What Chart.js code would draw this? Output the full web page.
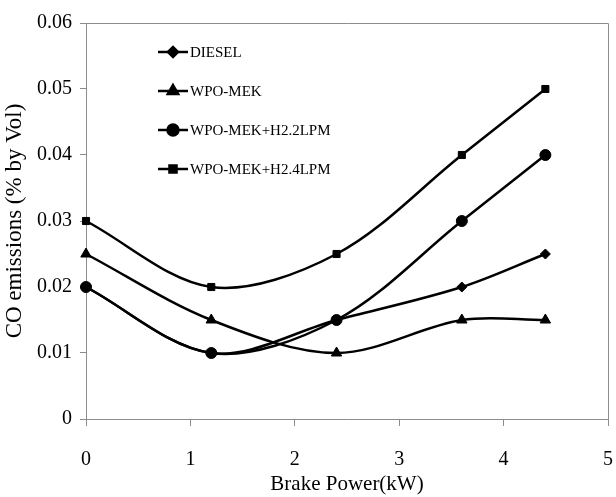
<!DOCTYPE html>
<html>
<head>
<meta charset="utf-8">
<script src="https://cdn.jsdelivr.net/npm/chart.js@4.4.1/dist/chart.umd.min.js"></script>
<style>
  html, body { margin: 0; padding: 0; background: #fff; }
  #wrap { width: 616px; height: 497px; position: relative; }
</style>
</head>
<body>
<div id="wrap"><canvas id="co-chart"></canvas></div>
<script>
// chart data
const brakePower = [0, 1.2, 2.4, 3.6, 4.4];
const seriesNames = ['DIESEL', 'WPO-MEK', 'WPO-MEK+H2.2LPM', 'WPO-MEK+H2.4LPM'];
const diesel = [0.02, 0.01, 0.015, 0.02, 0.025];
const wpoMek = [0.025, 0.015, 0.01, 0.015, 0.015];
const wpoMekH22 = [0.02, 0.01, 0.015, 0.03, 0.04];
const wpoMekH24 = [0.03, 0.02, 0.025, 0.04, 0.05];
const xTickLabels = ['0', '1', '2', '3', '4', '5'];
const yTickLabels = ['0', '0.01', '0.02', '0.03', '0.04', '0.05', '0.06'];

const markers = ['rectRot', 'triangle', 'circle', 'rect'];
const markerSizes = [5, 6, 5.5, 5];
const allValues = [diesel, wpoMek, wpoMekH22, wpoMekH24];

const serif = '"Liberation Serif", "Times New Roman", serif';
const axisGray = '#8c8c8c';

const datasets = allValues.map((vals, i) => ({
    label: seriesNames[i],
    data: vals.map((v, j) => ({ x: brakePower[j], y: v })),
    borderColor: '#000',
    backgroundColor: '#000',
    borderWidth: 2.5,
    pointStyle: markers[i],
    pointRadius: markerSizes[i],
    pointBackgroundColor: '#000',
    pointBorderColor: '#000',
    pointBorderWidth: 1,
    tension: 0.33,
    clip: false
}));

// legend inside the plot, drawn by hand
const insideLegend = {
    id: 'insideLegend',
    afterDatasetsDraw(chart) {
        const ctx = chart.ctx;
        ctx.save();
        ctx.font = '15px ' + serif;
        ctx.textBaseline = 'middle';
        ctx.fillStyle = '#000';
        datasets.forEach((ds, i) => {
            const y = 52 + i * 39;
            ctx.strokeStyle = '#000';
            ctx.lineWidth = 2.5;
            ctx.beginPath();
            ctx.moveTo(158, y);
            ctx.lineTo(188, y);
            ctx.stroke();
            Chart.helpers.drawPoint(ctx, {
                pointStyle: ds.pointStyle,
                radius: ds.pointRadius,
                borderWidth: 1,
                rotation: 0
            }, 173, y);
            ctx.fillText(ds.label, 190, y + 1);
        });
        ctx.restore();
    }
};

// gray frame around the plot area
const plotFrame = {
    id: 'plotFrame',
    beforeDatasetsDraw(chart) {
        const a = chart.chartArea;
        const ctx = chart.ctx;
        ctx.save();
        ctx.strokeStyle = axisGray;
        ctx.lineWidth = 1;
        ctx.beginPath();
        ctx.moveTo(a.left, a.top + 0.5);
        ctx.lineTo(a.right + 0.5, a.top + 0.5);
        ctx.lineTo(a.right + 0.5, a.bottom);
        ctx.stroke();
        ctx.restore();
    }
};

Chart.defaults.font.family = serif;
Chart.defaults.color = '#000';

new Chart(document.getElementById('co-chart'), {
    type: 'line',
    data: { datasets: datasets },
    options: {
        responsive: true,
        maintainAspectRatio: false,
        animation: false,
        layout: { padding: { top: 23, right: 8, left: 0, bottom: 0 } },
        plugins: {
            legend: { display: false },
            tooltip: { enabled: false }
        },
        scales: {
            x: {
                type: 'linear',
                min: 0,
                max: 5,
                grid: {
                    drawOnChartArea: false,
                    color: axisGray,
                    tickLength: 7,
                    tickColor: axisGray
                },
                border: { color: axisGray },
                ticks: {
                    stepSize: 1,
                    padding: 22,
                    font: { size: 20 },
                    callback: (value, index) => xTickLabels[index]
                },
                title: {
                    display: true,
                    text: 'Brake Power(kW)',
                    font: { size: 21 },
                    padding: { top: 0, bottom: 0 }
                },
                afterFit(scale) {
                    // tick padding is only meant to push labels down, not inwards
                    scale.height = 78;
                    scale.paddingLeft = 0;
                    scale.paddingRight = 8;
                }
            },
            y: {
                min: 0,
                max: 0.06,
                grid: {
                    drawOnChartArea: false,
                    color: axisGray,
                    tickLength: 6,
                    tickColor: axisGray
                },
                border: { color: axisGray },
                ticks: {
                    stepSize: 0.01,
                    padding: 8,
                    font: { size: 20 },
                    callback: (value, index) => yTickLabels[index]
                },
                title: {
                    display: true,
                    text: 'CO emissions (% by Vol)',
                    font: { size: 23 },
                    padding: { top: 1, bottom: 4 }
                },
                afterFit(scale) { scale.width = 86; }
            }
        }
    },
    plugins: [plotFrame, insideLegend]
});
</script>
</body>
</html>
